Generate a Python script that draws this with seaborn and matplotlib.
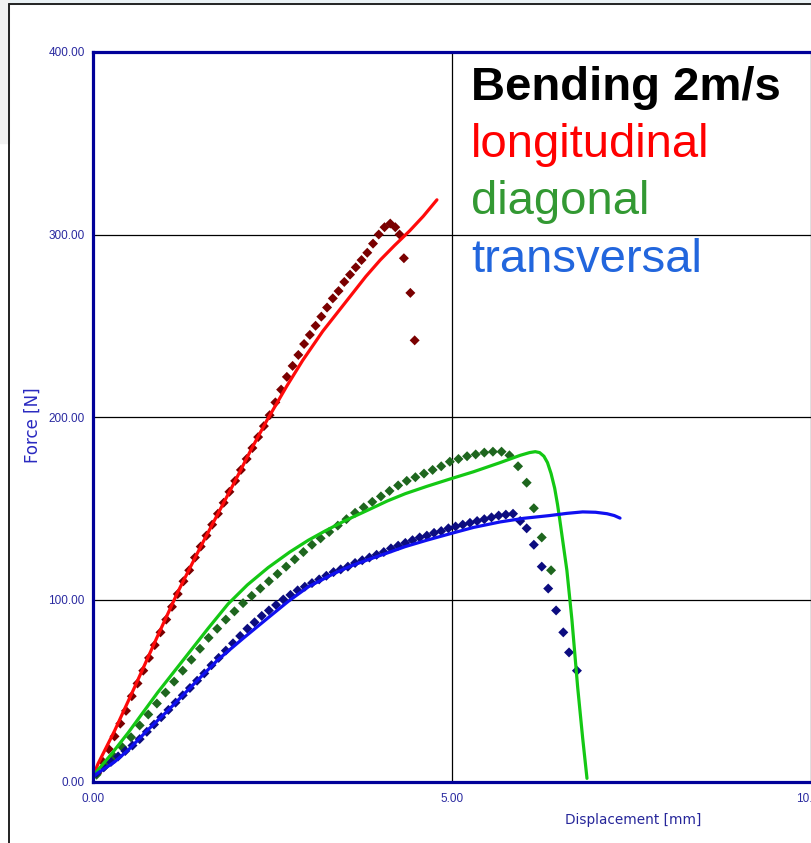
import numpy as np
import pandas as pd
import seaborn as sns
import matplotlib.pyplot as plt
from matplotlib.lines import Line2D
from matplotlib.patches import Rectangle

# --- measured curves (solid lines) ---
long_line_x = [0.00, 0.07, 0.30, 0.58, 0.90, 1.18, 1.50, 1.98, 2.20, 2.42, 2.70, 2.92,
               3.20, 3.54, 3.80, 4.00, 4.20, 4.41, 4.60, 4.79]
long_line_y = [3, 10, 28, 52, 80, 104, 129, 165, 182, 198, 217, 231,
               247, 264, 277, 286, 294, 302, 310, 319]

diag_line_x = [0.00, 0.07, 0.25, 0.49, 0.90, 1.28, 1.60, 1.88, 2.15, 2.44, 2.74, 3.00,
               3.23, 3.50, 3.83, 4.10, 4.35, 4.65, 4.97, 5.30, 5.67, 5.95, 6.08, 6.16,
               6.22, 6.28, 6.33, 6.38, 6.43, 6.47, 6.50, 6.55, 6.60, 6.67, 6.75, 6.82,
               6.88]
diag_line_y = [3, 6.6, 15, 27, 49, 68, 84, 97.5, 108, 117.5, 126, 132.5,
               137.5, 143, 149, 154, 158, 162, 166, 170, 175, 179, 180.5, 181,
               180.5, 178.5, 175, 169, 161, 152, 144, 130, 116, 89, 52, 24,
               2]

trans_line_x = [0.00, 0.07, 0.30, 0.49, 0.75, 1.04, 1.40, 1.74, 2.10, 2.44, 2.72, 3.00,
                3.37, 3.60, 3.83, 4.10, 4.35, 4.65, 4.97, 5.30, 5.67, 6.00, 6.36, 6.60,
                6.82, 7.00, 7.16, 7.26, 7.34]
trans_line_y = [3, 5, 11, 17.5, 28, 39, 53.5, 67, 79, 90, 99, 107,
                114.5, 118.5, 121.8, 125.5, 129, 132.5, 136, 139.5, 142.5, 144.5, 146, 147.2,
                148, 147.8, 147, 146, 144.6]

# --- measured curves (diamond markers) ---
long_pts_x = [0.06, 0.14, 0.22, 0.30, 0.38, 0.46, 0.54, 0.62, 0.70, 0.78, 0.86, 0.94,
              1.02, 1.10, 1.18, 1.26, 1.34, 1.42, 1.50, 1.58, 1.66, 1.74, 1.82, 1.90,
              1.98, 2.06, 2.14, 2.22, 2.30, 2.38, 2.46, 2.54, 2.62, 2.70, 2.78, 2.86,
              2.94, 3.02, 3.10, 3.18, 3.26, 3.34, 3.42, 3.50, 3.58, 3.66, 3.74, 3.82,
              3.90, 3.98, 4.06, 4.14, 4.21, 4.27, 4.33, 4.42, 4.48]
long_pts_y = [5, 11, 18, 25, 32, 39, 47, 54, 61, 68, 75, 82,
              89, 96, 103, 110, 116, 123, 129, 135, 141, 147, 153, 159,
              165, 171, 177, 183, 189, 195, 201, 208, 215, 222, 228, 234,
              240, 245, 250, 255, 260, 265, 269, 274, 278, 282, 286, 290,
              295, 300, 304, 306, 304, 300, 287, 268, 242]

diag_pts_x = [0.05, 0.17, 0.29, 0.41, 0.53, 0.65, 0.77, 0.89, 1.01, 1.13, 1.25, 1.37,
              1.49, 1.61, 1.73, 1.85, 1.97, 2.09, 2.21, 2.33, 2.45, 2.57, 2.69, 2.81,
              2.93, 3.05, 3.17, 3.29, 3.41, 3.53, 3.65, 3.77, 3.89, 4.01, 4.13, 4.25,
              4.37, 4.49, 4.61, 4.73, 4.85, 4.97, 5.09, 5.21, 5.33, 5.45, 5.57, 5.69,
              5.80, 5.92, 6.04, 6.14, 6.25, 6.38]
diag_pts_y = [4, 9, 14, 19, 24.5, 31, 37, 43, 49, 55, 61, 67,
              73, 79, 84, 89, 93.5, 98, 102, 106, 110, 114, 118, 122,
              126, 130, 133.5, 137, 140.5, 144, 147.5, 150.5, 153.5, 156.5, 159.5, 162.5,
              165, 167, 169, 171, 173, 175.5, 177, 178.5, 179.5, 180.5, 181, 181,
              179, 173, 164, 150, 134, 116]

trans_pts_x = [0.05, 0.15, 0.25, 0.35, 0.45, 0.55, 0.65, 0.75, 0.85, 0.95, 1.05, 1.15,
               1.25, 1.35, 1.45, 1.55, 1.65, 1.75, 1.85, 1.95, 2.05, 2.15, 2.25, 2.35,
               2.45, 2.55, 2.65, 2.75, 2.85, 2.95, 3.05, 3.15, 3.25, 3.35, 3.45, 3.55,
               3.65, 3.75, 3.85, 3.95, 4.05, 4.15, 4.25, 4.35, 4.45, 4.55, 4.65, 4.75,
               4.85, 4.95, 5.05, 5.15, 5.25, 5.35, 5.45, 5.55, 5.65, 5.75, 5.85,
               5.95, 6.04, 6.14, 6.25, 6.34, 6.45, 6.55, 6.63, 6.74]
trans_pts_y = [5, 8, 11, 14, 17, 20, 23.5, 27.5, 31.5, 35.5, 39.5, 43.5,
               47.5, 51.5, 55.5, 59.5, 64, 68, 72, 76, 80, 84, 87.5, 91,
               94, 97, 100, 102.5, 105, 107, 109, 111, 113, 115, 116.5, 118,
               120, 121.5, 123, 124.5, 126, 128, 129.5, 131, 132.5, 134, 135, 136.5,
               137.5, 139, 140, 141, 142, 143, 144, 145, 146, 146.5, 147,
               143, 139, 130, 118, 106, 94, 82, 71, 61]

x_ticks = [0, 5, 10]
y_ticks = [0, 100, 200, 300, 400]
legend_lines = ['longitudinal', 'diagonal', 'transversal']

line_colors = {'longitudinal': '#ff0a0a', 'diagonal': '#14c814', 'transversal': '#1010f0'}
point_colors = {'longitudinal': '#7a0000', 'diagonal': '#1e661e', 'transversal': '#0c0c80'}
text_colors = {'longitudinal': '#ff0000', 'diagonal': '#339933', 'transversal': '#2266dd'}

lines_df = pd.concat([
    pd.DataFrame({'x': long_line_x, 'y': long_line_y, 'series': 'longitudinal'}),
    pd.DataFrame({'x': diag_line_x, 'y': diag_line_y, 'series': 'diagonal'}),
    pd.DataFrame({'x': trans_line_x, 'y': trans_line_y, 'series': 'transversal'}),
], ignore_index=True)
pts_df = pd.concat([
    pd.DataFrame({'x': long_pts_x, 'y': long_pts_y, 'series': 'longitudinal'}),
    pd.DataFrame({'x': diag_pts_x, 'y': diag_pts_y, 'series': 'diagonal'}),
    pd.DataFrame({'x': trans_pts_x, 'y': trans_pts_y, 'series': 'transversal'}),
], ignore_index=True)

sns.set_style('white')
plt.rcParams['font.family'] = ['Liberation Sans', 'DejaVu Sans']

W, H = 812, 843
fig = plt.figure(figsize=(W / 100, H / 100), dpi=100, facecolor='white')

# screenshot frame
fig.patches.append(Rectangle((0, 1 - 4 / H), 1, 4 / H, transform=fig.transFigure,
                             color='#e9f1f5', zorder=0))
fig.patches.append(Rectangle((0, 1 - 143 / H), 9 / W, 143 / H, transform=fig.transFigure,
                             color='#f1f1f1', zorder=0))
fig.lines.append(Line2D([9 / W, 9 / W], [0, 1 - 4 / H], transform=fig.transFigure,
                        color='#222222', lw=1.4))
fig.lines.append(Line2D([9 / W, 1], [1 - 4 / H, 1 - 4 / H], transform=fig.transFigure,
                        color='#222222', lw=1.4))

ax = fig.add_axes([93 / W, 1 - 782 / H, 719 / W, 730 / H])
ax.set_facecolor('white')

sns.scatterplot(data=pts_df, x='x', y='y', hue='series', palette=point_colors,
                marker='D', s=26, linewidth=0, legend=False, ax=ax, zorder=3)
sns.lineplot(data=lines_df, x='x', y='y', hue='series', palette=line_colors,
             sort=False, estimator=None, lw=2.3, legend=False, ax=ax, zorder=4)

ax.set_xlim(0, 719 / 71.8)
ax.set_ylim(0, 400)
ax.set_xticks(x_ticks)
ax.set_yticks(y_ticks)
ax.set_xticklabels([f'{v:.2f}' for v in x_ticks])
ax.set_yticklabels([f'{v:.2f}' for v in y_ticks])
ax.tick_params(length=0, labelsize=8.5, labelcolor='#2a2aa0')
ax.tick_params(axis='y', pad=6)
ax.tick_params(axis='x', pad=8)
ax.grid(True, color='black', lw=0.9)
ax.set_axisbelow(True)
ax.set_xlabel('')
ax.set_ylabel('')
for side in ['left', 'top', 'bottom']:
    ax.spines[side].set_color('#000099')
    ax.spines[side].set_linewidth(2.3)
    ax.spines[side].set_zorder(5)
ax.spines['right'].set_visible(False)

fig.text(633 / W, 1 - 820 / H, 'Displacement [mm]', ha='center', va='center',
         fontsize=9.8, color='#26269a', family=['DejaVu Sans'])
fig.text(33 / W, 1 - 425 / H, 'Force [N]', ha='center', va='center', rotation=90,
         fontsize=12, color='#2a2ac0', family=['DejaVu Sans'])

fig.text(471 / W, 1 - 100 / H, 'Bending 2m/s', ha='left', va='baseline',
         fontsize=34, fontweight='bold', color='black')
for i, name in enumerate(legend_lines):
    fig.text(471 / W, 1 - (157 + 57.5 * i) / H, name, ha='left', va='baseline',
             fontsize=34, color=text_colors[name])

fig.savefig('out.png', dpi=100, facecolor=fig.get_facecolor())
